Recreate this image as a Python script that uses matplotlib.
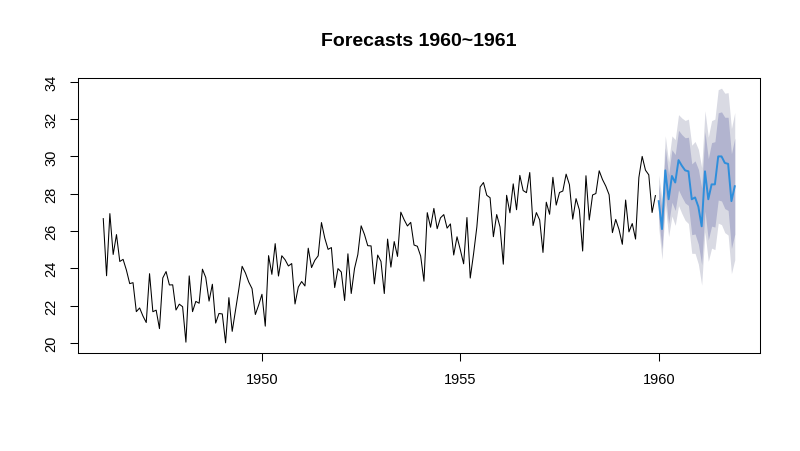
import matplotlib
matplotlib.use("Agg")
import matplotlib.pyplot as plt
import numpy as np

plt.rcParams['font.family'] = ['Liberation Sans', 'DejaVu Sans']

births = [26.663, 23.598, 26.931, 24.740, 25.806, 24.364, 24.477, 23.901, 23.175, 23.227, 21.672, 21.870,
          21.439, 21.089, 23.709, 21.669, 21.752, 20.761, 23.479, 23.824, 23.105, 23.110, 21.759, 22.073,
          21.937, 20.035, 23.590, 21.672, 22.222, 22.123, 23.950, 23.504, 22.238, 23.142, 21.059, 21.573,
          21.548, 20.000, 22.424, 20.615, 21.761, 22.874, 24.104, 23.748, 23.262, 22.907, 21.519, 22.025,
          22.604, 20.894, 24.677, 23.673, 25.320, 23.583, 24.671, 24.454, 24.122, 24.252, 22.084, 22.991,
          23.287, 23.049, 25.076, 24.037, 24.430, 24.667, 26.451, 25.618, 25.014, 25.110, 22.964, 23.981,
          23.798, 22.270, 24.775, 22.646, 23.988, 24.737, 26.276, 25.816, 25.210, 25.199, 23.162, 24.707,
          24.364, 22.644, 25.565, 24.062, 25.431, 24.635, 27.009, 26.606, 26.268, 26.462, 25.246, 25.180,
          24.657, 23.304, 26.982, 26.199, 27.210, 26.122, 26.706, 26.878, 26.152, 26.379, 24.712, 25.688,
          24.990, 24.239, 26.721, 23.475, 24.767, 26.219, 28.361, 28.599, 27.914, 27.784, 25.693, 26.881,
          26.217, 24.218, 27.914, 26.975, 28.527, 27.139, 28.982, 28.169, 28.056, 29.136, 26.291, 26.987,
          26.589, 24.848, 27.543, 26.896, 28.878, 27.390, 28.065, 28.141, 29.048, 28.484, 26.634, 27.735,
          27.132, 24.924, 28.963, 26.589, 27.931, 28.009, 29.229, 28.759, 28.405, 27.945, 25.912, 26.619,
          26.076, 25.286, 27.660, 25.951, 26.398, 25.565, 28.865, 30.000, 29.261, 29.012, 26.992, 27.897]
start_year = 1946

fc_mean = [27.60, 26.10, 29.25, 27.70, 28.95, 28.60, 29.80, 29.50, 29.25, 29.20, 27.70, 27.80,
           27.30, 26.25, 29.20, 27.70, 28.50, 28.50, 30.00, 30.00, 29.65, 29.60, 27.60, 28.40]
up95 = [29.00, 27.72, 31.10, 29.70, 31.10, 30.90, 32.24, 32.06, 31.93, 32.00, 30.60, 30.80,
        30.38, 29.40, 32.45, 31.03, 31.92, 32.00, 33.58, 33.66, 33.39, 33.42, 31.49, 32.35]
lo95 = [26.20, 24.48, 27.40, 25.70, 26.80, 26.30, 27.36, 26.94, 26.57, 26.40, 24.80, 24.80,
        24.22, 23.10, 25.95, 24.37, 25.08, 25.00, 26.42, 26.34, 25.91, 25.78, 23.71, 24.45]
up80 = [28.52, 27.16, 30.46, 29.01, 30.36, 30.10, 31.40, 31.17, 31.00, 31.03, 29.60, 29.76,
        29.31, 28.31, 31.33, 29.88, 30.74, 30.79, 32.34, 32.39, 32.10, 32.10, 30.14, 30.98]
lo80 = [26.68, 25.04, 28.04, 26.39, 27.54, 27.10, 28.20, 27.83, 27.50, 27.37, 25.80, 25.84,
        25.29, 24.19, 27.07, 25.52, 26.26, 26.21, 27.66, 27.61, 27.20, 27.10, 25.06, 25.82]
fc_start = 1960

xticks = [1950, 1955, 1960]
yticks = [20, 22, 24, 26, 28, 30, 32, 34]
title = "Forecasts 1960~1961"

t_hist = start_year + np.arange(len(births)) / 12.0
t_fc = fc_start + np.arange(len(fc_mean)) / 12.0

fig = plt.figure(figsize=(8, 4.52), dpi=100)
ax = fig.add_axes([78 / 800, 1 - 354 / 452, (760 - 78) / 800, (354 - 79) / 452])

ax.fill_between(t_fc, lo95, up95, color='#D9DAE3', linewidth=0)
ax.fill_between(t_fc, lo80, up80, color='#B2B4CF', linewidth=0)
ax.plot(t_hist, births, color='black', linewidth=0.75)
ax.plot(t_fc, fc_mean, color='#2E8EDB', linewidth=1.4)

xmin, xmax = t_hist[0], t_fc[-1]
xr = xmax - xmin
ax.set_xlim(xmin - 0.04 * xr, xmax + 0.04 * xr)
ymin = min(min(births), min(lo95))
ymax = max(max(births), max(up95))
yr = ymax - ymin
ax.set_ylim(ymin - 0.04 * yr, ymax + 0.04 * yr)

ax.set_xticks(xticks)
ax.set_xticklabels([str(v) for v in xticks])
ax.set_yticks(yticks)
ax.set_yticklabels([str(v) for v in yticks], rotation=90, va='center')
ax.tick_params(axis='both', direction='out', length=5.5, width=0.75, labelsize=10.5, colors='black')
ax.tick_params(axis='x', pad=8.5)
ax.tick_params(axis='y', pad=8.5)
for s in ax.spines.values():
    s.set_linewidth(0.75)
    s.set_color('black')

ax.text(0.5, 1 + (79 - 42) / 275, title, transform=ax.transAxes, ha='center', va='center',
        fontsize=14, fontweight='bold')

fig.savefig('out.png', dpi=100)
